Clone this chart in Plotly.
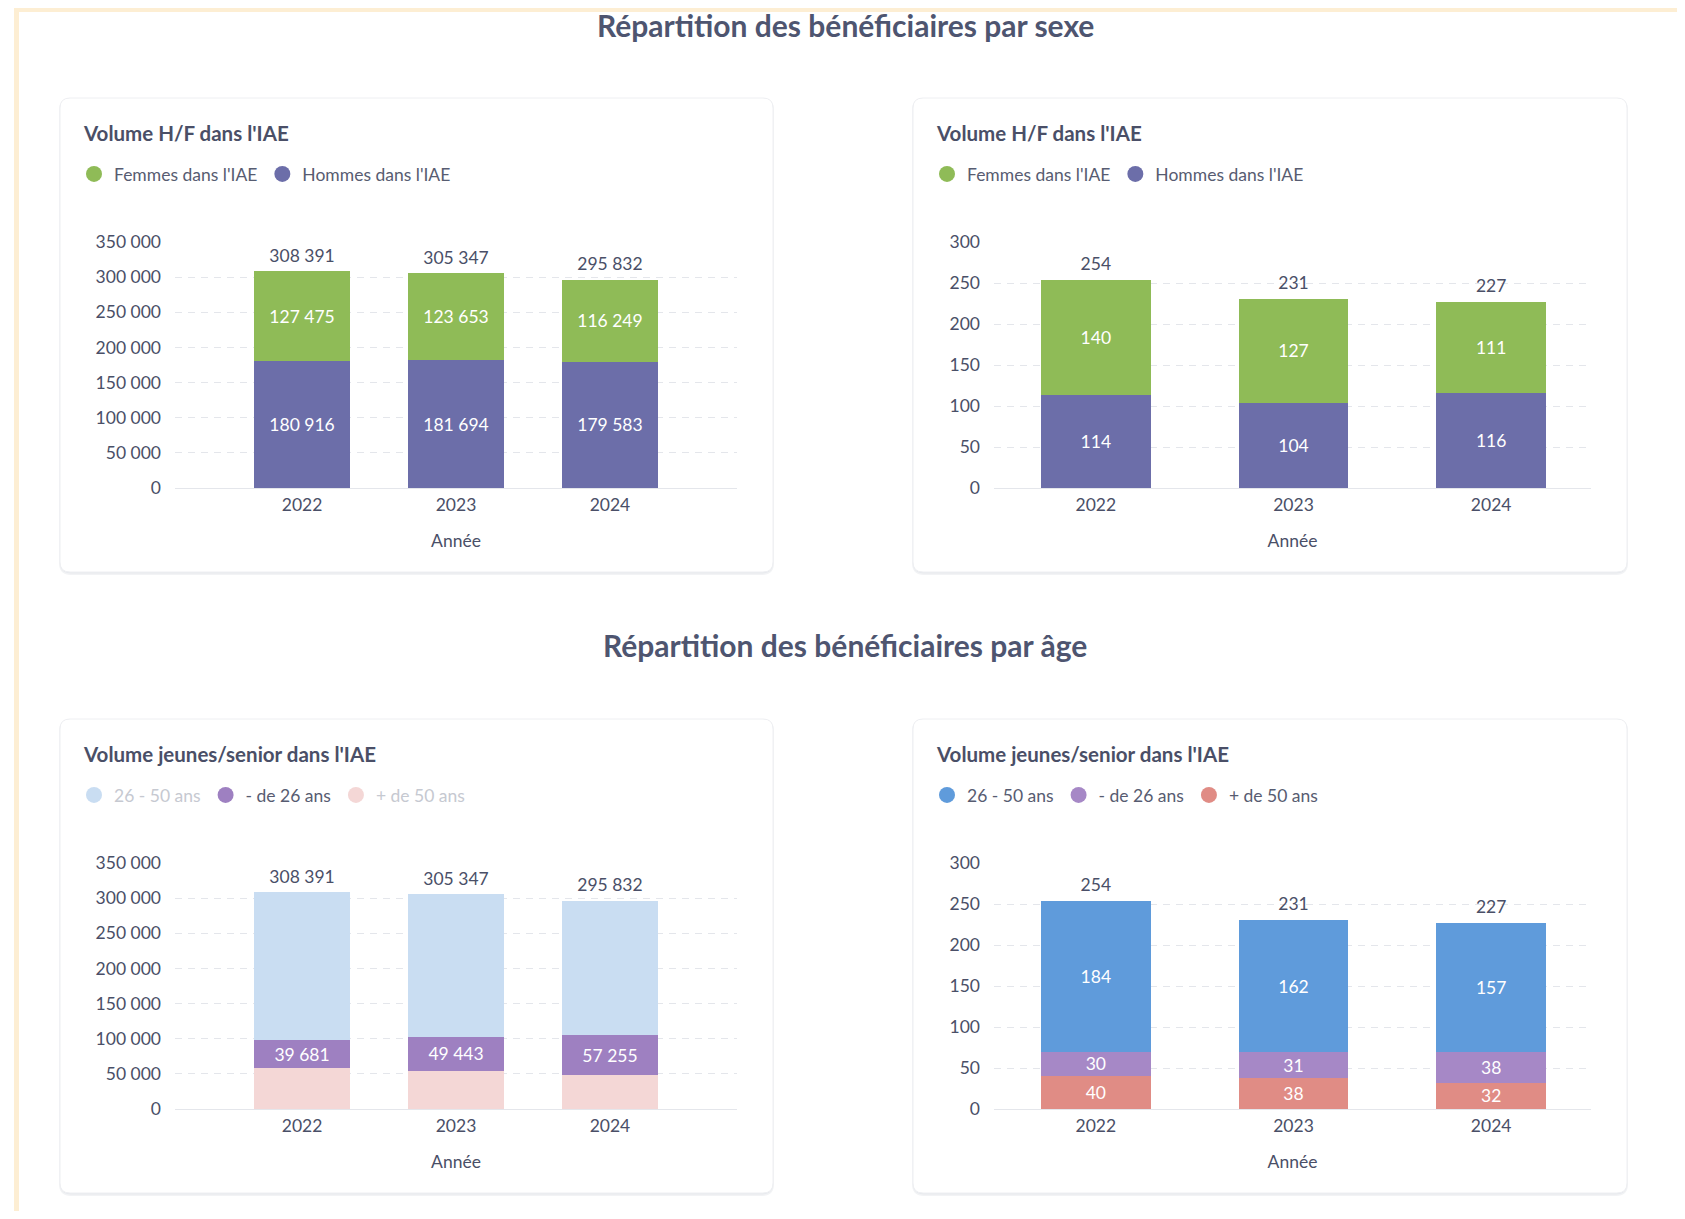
import plotly.graph_objects as go

# page offset of the figure inside the html body (browser default body margin)
OX, OY = 8, 8
W, H = 1685 - 2 * OX, 1219 - 2 * OY

# ---------------- data ----------------
years = ["2022", "2023", "2024"]

# Répartition par sexe – volume (left) and right-hand chart
femmes_vol = [127475, 123653, 116249]
hommes_vol = [180916, 181694, 179583]
femmes_n = [140, 127, 111]
hommes_n = [114, 104, 116]

# Répartition par âge – volume (left, 26-50 and +50 estimated) and right-hand chart
age_26_50_vol = [210310, 202204, 190477]
age_moins26_vol = [39681, 49443, 57255]
age_plus50_vol = [58400, 53700, 48100]
age_26_50_n = [184, 162, 157]
age_moins26_n = [30, 31, 38]
age_plus50_n = [40, 38, 32]

ticks_vol = [0, 50000, 100000, 150000, 200000, 250000, 300000, 350000]
ticks_n = [0, 50, 100, 150, 200, 250, 300]

main_titles = ["Répartition des bénéficiaires par sexe", "Répartition des bénéficiaires par âge"]
card_titles = ["Volume H/F dans l'IAE", "Volume jeunes/senior dans l'IAE"]
axis_title = "Année"

# ---------------- style ----------------
FONT = "Lato, 'Noto Sans', sans-serif"
TXT = "#4a4f67"
LEG_TXT = "#575c71"
FADED_TXT = "#c6c9d1"
GREEN = "#8fbb57"
NAVY = "#6c6ea9"
BLUE = "#5f9bdb"
PURPLE_R = "#a688c6"
SALMON = "#e08c85"
BLUE_F = "#c9ddf2"
PURPLE_L = "#9e80c1"
PINK_F = "#f4d7d6"
GRID = "#e4e6eb"
FS = 17.5


def fx(x):
    return (x - OX) / W


def fy(y):
    return 1 - (y - OY) / H


def rrect_path(x0, y0, x1, y1, r):
    p = []
    p.append(f"M {fx(x0 + r)},{fy(y0)}")
    p.append(f"L {fx(x1 - r)},{fy(y0)}")
    p.append(f"Q {fx(x1)},{fy(y0)} {fx(x1)},{fy(y0 + r)}")
    p.append(f"L {fx(x1)},{fy(y1 - r)}")
    p.append(f"Q {fx(x1)},{fy(y1)} {fx(x1 - r)},{fy(y1)}")
    p.append(f"L {fx(x0 + r)},{fy(y1)}")
    p.append(f"Q {fx(x0)},{fy(y1)} {fx(x0)},{fy(y1 - r)}")
    p.append(f"L {fx(x0)},{fy(y0 + r)}")
    p.append(f"Q {fx(x0)},{fy(y0)} {fx(x0 + r)},{fy(y0)}")
    p.append("Z")
    return " ".join(p)


fig = go.Figure()

# panel geometry (page pixels)
cards = [(60, 98, 773, 572), (913, 98, 1627, 572), (60, 719, 773, 1193), (913, 719, 1627, 1193)]
plot_x = [(175, 737), (994, 1591), (175, 737), (994, 1591)]
plot_y = [(242, 488), (242, 488), (863, 1109), (863, 1109)]
xranges = [[-0.825, 2.825], [-0.515, 2.505], [-0.825, 2.825], [-0.515, 2.505]]
bar_w = [0.62, 0.556, 0.62, 0.556]
legend_xy = [(74, 174), (927, 174), (74, 795), (927, 795)]

shapes = []
# cream frame
shapes.append(dict(type="rect", xref="paper", yref="paper", x0=fx(14), x1=1, y0=fy(12), y1=1,
                   fillcolor="#fdeed3", line=dict(width=0), layer="below"))
shapes.append(dict(type="rect", xref="paper", yref="paper", x0=fx(14), x1=fx(19), y0=0, y1=1,
                   fillcolor="#fdeed3", line=dict(width=0), layer="below"))
for (x0, y0, x1, y1) in cards:
    shapes.append(dict(type="path", xref="paper", yref="paper", path=rrect_path(x0 - 1, y0, x1 + 1, y1 + 3, 12),
                       fillcolor="#f2f3f5", line=dict(width=0), layer="below"))
    shapes.append(dict(type="path", xref="paper", yref="paper", path=rrect_path(x0, y0, x1, y1 + 1.5, 11),
                       fillcolor="#e8eaee", line=dict(width=0), layer="below"))
    shapes.append(dict(type="path", xref="paper", yref="paper", path=rrect_path(x0, y0, x1, y1, 10),
                       fillcolor="white", line=dict(color="#eeeff2", width=1), layer="below"))


def add_stack(idx, series, legend_name):
    ax = "" if idx == 0 else str(idx + 1)
    xa, ya = "x" + ax, "y" + ax
    totals = [sum(v) for v in zip(*[s["y"] for s in series])]
    for s in series:
        fig.add_trace(go.Bar(
            x=years, y=s["y"], name=s["name"], marker=dict(color=s["color"], line=dict(width=0)),
            width=bar_w[idx], xaxis=xa, yaxis=ya, showlegend=False,
            texttemplate="%{y:,d}" if s["label"] else None,
            textposition="inside" if s["label"] else "none",
            insidetextanchor="middle", textangle=0, constraintext="none",
            textfont=dict(family=FONT, size=FS, color="white"),
            hoverinfo="skip",
        ))
    fig.add_trace(go.Scatter(
        x=years, y=totals, mode="markers+text", texttemplate="%{y:,d}", textposition="top center",
        marker=dict(size=7, color="rgba(0,0,0,0)"),
        textfont=dict(family=FONT, size=FS, color=TXT), xaxis=xa, yaxis=ya, showlegend=False,
        hoverinfo="skip",
    ))
    for s in sorted(series, key=lambda d: d["rank"]):
        nm = s["name"]
        if s.get("faded"):
            nm = f"<span style='color:{FADED_TXT}'>{nm}</span>"
        fig.add_trace(go.Scatter(
            x=[None], y=[None], mode="markers", name=nm,
            marker=dict(size=16, color=s["color"], symbol="circle"),
            xaxis=xa, yaxis=ya, legend=legend_name, legendrank=s["rank"], showlegend=True,
        ))


add_stack(0, [
    dict(y=hommes_vol, name="Hommes dans l'IAE", color=NAVY, label=True, rank=2),
    dict(y=femmes_vol, name="Femmes dans l'IAE", color=GREEN, label=True, rank=1),
], "legend")
add_stack(1, [
    dict(y=hommes_n, name="Hommes dans l'IAE", color=NAVY, label=True, rank=2),
    dict(y=femmes_n, name="Femmes dans l'IAE", color=GREEN, label=True, rank=1),
], "legend2")
add_stack(2, [
    dict(y=age_plus50_vol, name="+ de 50 ans", color=PINK_F, label=False, rank=3, faded=True),
    dict(y=age_moins26_vol, name="- de 26 ans", color=PURPLE_L, label=True, rank=2),
    dict(y=age_26_50_vol, name="26 - 50 ans", color=BLUE_F, label=False, rank=1, faded=True),
], "legend3")
add_stack(3, [
    dict(y=age_plus50_n, name="+ de 50 ans", color=SALMON, label=True, rank=3),
    dict(y=age_moins26_n, name="- de 26 ans", color=PURPLE_R, label=True, rank=2),
    dict(y=age_26_50_n, name="26 - 50 ans", color=BLUE, label=True, rank=1),
], "legend4")

layout = dict(
    width=W, height=H, margin=dict(l=0, r=0, t=0, b=0, autoexpand=False),
    paper_bgcolor="white", plot_bgcolor="rgba(0,0,0,0)",
    barmode="stack", separators=", ", showlegend=True,
    font=dict(family=FONT, color=TXT, size=FS),
    shapes=shapes, hovermode=False,
)

for i in range(4):
    ax = "" if i == 0 else str(i + 1)
    yr = [0, 350000] if i in (0, 2) else [0, 300]
    tv = ticks_vol if i in (0, 2) else ticks_n
    layout["xaxis" + ax] = dict(
        domain=[fx(plot_x[i][0]), fx(plot_x[i][1])], anchor="y" + ax, type="category",
        range=xranges[i], showgrid=False, zeroline=False, showline=False, ticks="",
        tickfont=dict(family=FONT, size=FS, color=TXT), ticklabelstandoff=4, automargin=False,
        title=dict(text=axis_title, font=dict(family=FONT, size=FS, color=TXT), standoff=21),
        fixedrange=True,
    )
    layout["yaxis" + ax] = dict(
        domain=[fy(plot_y[i][1]), fy(plot_y[i][0])], anchor="x" + ax, range=yr,
        tickvals=tv, tickformat=",d", showgrid=True, gridcolor=GRID, gridwidth=1, griddash="7px,6px",
        zeroline=True, zerolinecolor=GRID, zerolinewidth=1, showline=False, ticks="",
        tickfont=dict(family=FONT, size=FS, color=TXT), ticklabelstandoff=13, automargin=False,
        fixedrange=True,
    )
    lname = "legend" if i == 0 else "legend" + str(i + 1)
    lx, ly = legend_xy[i]
    layout[lname] = dict(
        orientation="h", x=fx(lx), y=fy(ly), xanchor="left", yanchor="middle",
        font=dict(family=FONT, size=FS, color=LEG_TXT), bgcolor="rgba(0,0,0,0)",
        itemclick=False, itemdoubleclick=False, traceorder="normal",
    )

annotations = []
for t, yc in zip(main_titles, [25, 645]):
    annotations.append(dict(text=f"<b>{t}</b>", x=fx(845), y=fy(yc), xref="paper", yref="paper",
                            xanchor="center", yanchor="middle", showarrow=False,
                            font=dict(family=FONT, size=30, color="#4e5570")))
for i, (x0, y0, x1, y1) in enumerate(cards):
    annotations.append(dict(text=f"<b>{card_titles[i // 2]}</b>", x=fx(x0 + 21), y=fy(y0 + 35),
                            xref="paper", yref="paper", xanchor="left", yanchor="middle",
                            showarrow=False, font=dict(family=FONT, size=20.5, color=TXT)))
layout["annotations"] = annotations

fig.update_layout(**layout)
fig.write_html("out.html")
